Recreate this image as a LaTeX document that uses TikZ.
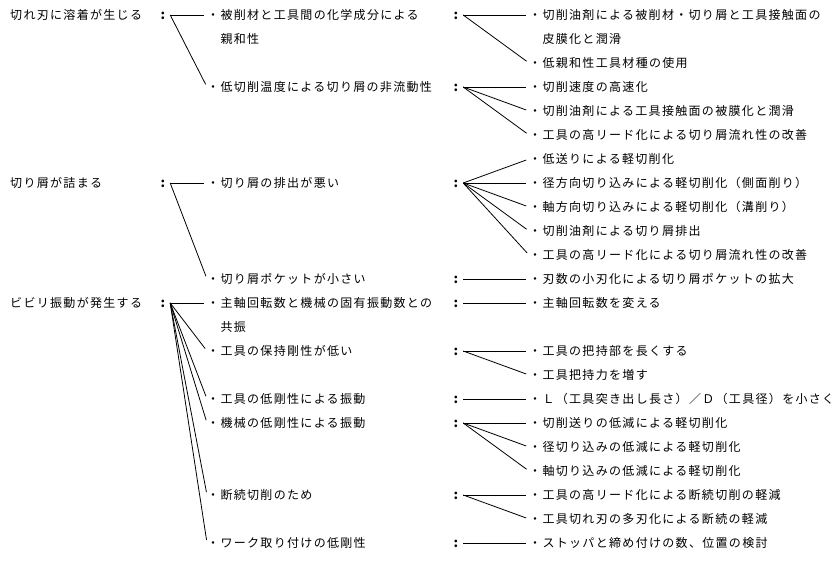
\documentclass[tikz,border=0pt]{standalone}
\usepackage{fontspec}
\newfontfamily\jpfont[LetterSpace=11]{Noto Sans CJK JP}
\usetikzlibrary{positioning}
\tikzset{
  txt/.style={anchor=west, inner sep=0pt, text height=10.5pt, text depth=1.5pt,
              font=\jpfont\fontsize{12pt}{14pt}\selectfont},
  colon/.style={inner sep=0pt, minimum width=14pt, text height=10.5pt, text depth=1.5pt,
                font=\jpfont\fontsize{13pt}{14pt}\selectfont\bfseries},
  link/.style={draw=black, line width=0.8pt, shorten >=3pt},
}
\newcommand{\rw}[1]{15+24*#1}
\newcommand{\COLA}{10}
\newcommand{\COLB}{163}
\newcommand{\COLC}{207}
\newcommand{\COLD}{456}
\newcommand{\COLE}{529}

\begin{document}
\begin{tikzpicture}[x=1pt,y=-1pt]
    \path[use as bounding box, fill=white] (0,0) rectangle (840,560);

      % causes
      \node[txt] (cz) at (\COLA,\rw{0}) {切れ刃に溶着が生じる};
      \node[txt] (cc) at (\COLA,\rw{7}) {切り屑が詰まる};
      \node[txt] (cv) at (\COLA,\rw{12}) {ビビリ振動が発生する};
      \foreach \n/\r in {kz/0,kc/7,kv/12}
        \node[colon] (\n) at (\COLB,\rw{\r}) {:};

      % reasons
      \foreach \n/\r/\t in {
          m1/0/{・被削材と工具間の化学成分による},
          m2/3/{・低切削温度による切り屑の非流動性},
          m3/7/{・切り屑の排出が悪い},
          m4/11/{・切り屑ポケットが小さい},
          m5/12/{・主軸回転数と機械の固有振動数との},
          m6/14/{・工具の保持剛性が低い},
          m7/16/{・工具の低剛性による振動},
          m8/17/{・機械の低剛性による振動},
          m9/20/{・断続切削のため},
          m10/22/{・ワーク取り付けの低剛性}}
        \node[txt] (\n) at (\COLC,\rw{\r}) {\t};
      \node[txt] (m1b) at (\COLC+13.3,\rw{1}) {親和性};
      \node[txt] (m5b) at (\COLC+13.3,\rw{13}) {共振};
      \foreach \n/\r in {q1/0,q2/3,q3/7,q4/11,q5/12,q6/14,q7/16,q8/17,q9/20,q10/22}
        \node[colon] (\n) at (\COLD,\rw{\r}) {:};

      % remedies
      \foreach \n/\r/\t in {
          r0/0/{・切削油剤による被削材・切り屑と工具接触面の},
          r2/2/{・低親和性工具材種の使用},
          r3/3/{・切削速度の高速化},
          r4/4/{・切削油剤による工具接触面の被膜化と潤滑},
          r5/5/{・工具の高リード化による切り屑流れ性の改善},
          r6/6/{・低送りによる軽切削化},
          r7/7/{・径方向切り込みによる軽切削化（側面削り）},
          r8/8/{・軸方向切り込みによる軽切削化（溝削り）},
          r9/9/{・切削油剤による切り屑排出},
          r10/10/{・工具の高リード化による切り屑流れ性の改善},
          r11/11/{・刃数の小刃化による切り屑ポケットの拡大},
          r12/12/{・主軸回転数を変える},
          r14/14/{・工具の把持部を長くする},
          r15/15/{・工具把持力を増す},
          r16/16/{・Ｌ（工具突き出し長さ）／Ｄ（工具径）を小さく},
          r17/17/{・切削送りの低減による軽切削化},
          r18/18/{・径切り込みの低減による軽切削化},
          r19/19/{・軸切り込みの低減による軽切削化},
          r20/20/{・工具の高リード化による断続切削の軽減},
          r21/21/{・工具切れ刃の多刃化による断続の軽減},
          r22/22/{・ストッパと締め付けの数、位置の検討}}
        \node[txt] (\n) at (\COLE,\rw{\r}) {\t};
      \node[txt] (r1) at (\COLE+13.3,\rw{1}) {皮膜化と潤滑};

      % links
      \foreach \a/\b in {kz/m1,kz/m2,kc/m3,kc/m4,kv/m5,kv/m6,kv/m7,kv/m8,kv/m9,kv/m10,
                         q1/r0,q1/r2,q2/r3,q2/r4,q2/r5,q3/r6,q3/r7,q3/r8,q3/r9,q3/r10,
                         q4/r11,q5/r12,q6/r14,q6/r15,q7/r16,q8/r17,q8/r18,q8/r19,
                         q9/r20,q9/r21,q10/r22}
        \draw[link] (\a.east) -- (\b.west);

\end{tikzpicture}
\end{document}
